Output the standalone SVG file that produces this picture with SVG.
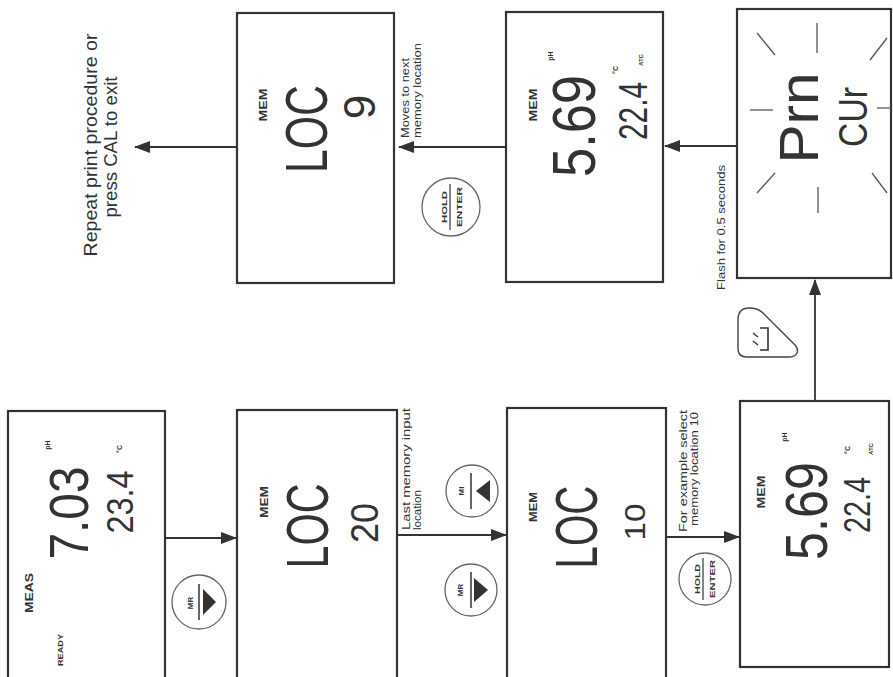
<svg xmlns="http://www.w3.org/2000/svg" width="893" height="677" viewBox="0 0 893 677">
<style>
.box{fill:#fff;stroke:#333;stroke-width:2.2}
.lcd{font-family:"Liberation Sans Narrow","Liberation Sans",Arial,sans-serif;fill:#333;text-anchor:middle}
.ind{font-family:"Liberation Sans",Arial,sans-serif;font-weight:bold;fill:#333;text-anchor:middle}
.lbl{font-family:"Liberation Sans",Arial,sans-serif;fill:#333}
.conn{stroke:#333;stroke-width:1.8;fill:none;marker-end:url(#ah)}
.btn{fill:#fff;stroke:#666;stroke-width:1.3}
.bt{font-family:"Liberation Sans",Arial,sans-serif;font-weight:bold;fill:#333;text-anchor:middle;font-size:8px}
.ray{stroke:#555;stroke-width:1.3}
</style>
<defs>
<marker id="ah" markerUnits="userSpaceOnUse" markerWidth="16" markerHeight="12" refX="15" refY="6" orient="auto">
<path d="M0,0 L16,6 L0,12 Z" fill="#333"/>
</marker>
</defs>
<rect width="893" height="677" fill="#fff"/>

<g id="connectors">
<path class="conn" d="M165 538 H236"/>
<path class="conn" d="M397 535 H506"/>
<path class="conn" d="M666 537 H739"/>
<path class="conn" d="M815 400 V280"/>
<path class="conn" d="M737 146 H665"/>
<path class="conn" d="M506 147 H399"/>
<path class="conn" d="M237 147 H135"/>
</g>

<g id="node-meas">
<rect class="box" x="8" y="411" width="157" height="280"/>
<text class="ind" font-size="11" textLength="40" lengthAdjust="spacingAndGlyphs" transform="translate(33 593) rotate(-90)">MEAS</text>
<text class="ind" font-size="6.5" font-weight="normal" textLength="32" lengthAdjust="spacingAndGlyphs" transform="translate(63 650) rotate(-90)">READY</text>
<text class="lcd" font-size="56" textLength="93" lengthAdjust="spacingAndGlyphs" transform="translate(88 513) rotate(-90)">7.03</text>
<text class="ind" font-size="7" transform="translate(50 445) rotate(-90)">pH</text>
<text class="lcd" font-size="36" textLength="63" lengthAdjust="spacingAndGlyphs" transform="translate(133 502) rotate(-90)">23.4</text>
<text class="ind" font-size="7" transform="translate(122 449) rotate(-90)">°C</text>
</g>

<g id="node-loc20">
<rect class="box" x="237" y="410" width="160" height="280"/>
<text class="ind" font-size="11" textLength="32" lengthAdjust="spacingAndGlyphs" transform="translate(268 502) rotate(-90)">MEM</text>
<text class="lcd" font-size="59" textLength="85" lengthAdjust="spacingAndGlyphs" transform="translate(328 526) rotate(-90)">LOC</text>
<text class="lcd" font-size="38" textLength="40" lengthAdjust="spacingAndGlyphs" transform="translate(378 523) rotate(-90)">20</text>
</g>

<g id="node-loc10">
<rect class="box" x="507" y="408" width="159" height="282"/>
<text class="ind" font-size="11" textLength="30" lengthAdjust="spacingAndGlyphs" transform="translate(537 507) rotate(-90)">MEM</text>
<text class="lcd" font-size="60" textLength="83" lengthAdjust="spacingAndGlyphs" transform="translate(597 527) rotate(-90)">LOC</text>
<text class="lcd" font-size="30" textLength="37" lengthAdjust="spacingAndGlyphs" transform="translate(645 522) rotate(-90)">10</text>
</g>

<g id="node-mem-bottom">
<rect class="box" x="740" y="401" width="149" height="266"/>
<text class="ind" font-size="11" textLength="33" lengthAdjust="spacingAndGlyphs" transform="translate(765 492) rotate(-90)">MEM</text>
<text class="lcd" font-size="60" textLength="98" lengthAdjust="spacingAndGlyphs" transform="translate(827 511) rotate(-90)">5.69</text>
<text class="ind" font-size="7" transform="translate(787 437) rotate(-90)">pH</text>
<text class="lcd" font-size="37" textLength="56" lengthAdjust="spacingAndGlyphs" transform="translate(870 505) rotate(-90)">22.4</text>
<text class="ind" font-size="7" transform="translate(850 450) rotate(-90)">°C</text>
<text class="ind" font-size="6" transform="translate(873 449) rotate(-90)">ATC</text>
</g>

<g id="node-loc9">
<rect class="box" x="237" y="13" width="157" height="270"/>
<text class="ind" font-size="11" textLength="33" lengthAdjust="spacingAndGlyphs" transform="translate(267 105) rotate(-90)">MEM</text>
<text class="lcd" font-size="60" textLength="88" lengthAdjust="spacingAndGlyphs" transform="translate(327 129) rotate(-90)">LOC</text>
<text class="lcd" font-size="44" transform="translate(375 107) rotate(-90)">9</text>
</g>

<g id="node-mem-top">
<rect class="box" x="506" y="12" width="157" height="270"/>
<text class="ind" font-size="11" textLength="33" lengthAdjust="spacingAndGlyphs" transform="translate(537 105) rotate(-90)">MEM</text>
<text class="lcd" font-size="62" textLength="102" lengthAdjust="spacingAndGlyphs" transform="translate(595 126) rotate(-90)">5.69</text>
<text class="ind" font-size="7" transform="translate(553 56) rotate(-90)">pH</text>
<text class="lcd" font-size="40" textLength="58" lengthAdjust="spacingAndGlyphs" transform="translate(647 111) rotate(-90)">22.4</text>
<text class="ind" font-size="7" transform="translate(618 70) rotate(-90)">°C</text>
<text class="ind" font-size="6" transform="translate(643 60) rotate(-90)">ATC</text>
</g>

<g id="node-prn">
<rect class="box" x="737" y="9" width="154" height="269"/>
<text class="lcd" font-size="55" textLength="91" lengthAdjust="spacingAndGlyphs" transform="translate(818 118) rotate(-90)">Prn</text>
<text class="lcd" font-size="41" textLength="60" lengthAdjust="spacingAndGlyphs" transform="translate(867 117) rotate(-90)">CUr</text>
<line class="ray" x1="817" y1="23" x2="817" y2="53"/>
<line class="ray" x1="818" y1="187" x2="818" y2="213"/>
<line class="ray" x1="750" y1="110" x2="773" y2="110"/>
<line class="ray" x1="877" y1="108" x2="891" y2="108"/>
<line class="ray" x1="757" y1="33" x2="775" y2="55"/>
<line class="ray" x1="887" y1="38" x2="870" y2="60"/>
<line class="ray" x1="775" y1="173" x2="757" y2="193"/>
<line class="ray" x1="872" y1="173" x2="887" y2="193"/>
</g>

<g id="btn-mr-1">
<circle class="btn" cx="199" cy="602" r="27"/>
<text class="bt" transform="translate(193 603) rotate(-90)">MR</text>
<line x1="199" y1="584" x2="199" y2="620" stroke="#333" stroke-width="1.5"/>
<path d="M203 589 L203 615 L216 602 Z" fill="#333"/>
</g>

<g id="btn-mi">
<circle class="btn" cx="472" cy="491" r="26"/>
<text class="bt" transform="translate(464 491) rotate(-90)">MI</text>
<line x1="471" y1="473" x2="471" y2="509" stroke="#333" stroke-width="1.5"/>
<path d="M476 491 L490 480 L490 502 Z" fill="#333"/>
</g>

<g id="btn-mr-2">
<circle class="btn" cx="471" cy="590" r="26"/>
<text class="bt" transform="translate(463 590) rotate(-90)">MR</text>
<line x1="471" y1="572" x2="471" y2="608" stroke="#333" stroke-width="1.5"/>
<path d="M474 578 L474 602 L488 590 Z" fill="#333"/>
</g>

<g id="btn-hold-top">
<circle class="btn" cx="451" cy="207" r="29"/>
<text class="bt" textLength="32" lengthAdjust="spacingAndGlyphs" transform="translate(447 207) rotate(-90)">HOLD</text>
<line x1="450" y1="184" x2="450" y2="230" stroke="#333" stroke-width="1.2"/>
<text class="bt" textLength="40" lengthAdjust="spacingAndGlyphs" transform="translate(462 207) rotate(-90)">ENTER</text>
</g>

<g id="btn-hold-bottom">
<circle class="btn" cx="705" cy="579" r="26"/>
<text class="bt" textLength="30" lengthAdjust="spacingAndGlyphs" transform="translate(700 579) rotate(-90)">HOLD</text>
<line x1="703" y1="558" x2="703" y2="600" stroke="#333" stroke-width="1.2"/>
<text class="bt" textLength="38" lengthAdjust="spacingAndGlyphs" transform="translate(715 579) rotate(-90)">ENTER</text>
</g>

<g id="btn-print">
<path d="M749 308 C741 308 738 312 738 320 L738 349 C738 355 741 357 747 357 L789 357 C797 357 800 351 795 345 L763 313 C759 309 755 308 749 308 Z" fill="#fff" stroke="#444" stroke-width="1.4"/>
<path d="M760 328 H768 V350 H760" fill="none" stroke="#333" stroke-width="1.6"/>
<path d="M753 333 L758 337 M753 341 L758 345" stroke="#333" stroke-width="1.3"/>
</g>

<g id="labels">
<text class="lbl" font-size="18.5" text-anchor="middle" textLength="223" lengthAdjust="spacingAndGlyphs" transform="translate(97 145) rotate(-90)">Repeat print procedure or</text>
<text class="lbl" font-size="18.5" text-anchor="middle" textLength="141" lengthAdjust="spacingAndGlyphs" transform="translate(117 147) rotate(-90)">press CAL to exit</text>
<text class="lbl" font-size="10" textLength="80" lengthAdjust="spacingAndGlyphs" transform="translate(409 138) rotate(-90)">Moves to next</text>
<text class="lbl" font-size="10" textLength="95" lengthAdjust="spacingAndGlyphs" transform="translate(421 138) rotate(-90)">memory location</text>
<text class="lbl" font-size="10" textLength="125" lengthAdjust="spacingAndGlyphs" transform="translate(725 290) rotate(-90)">Flash for 0.5 seconds</text>
<text class="lbl" font-size="10" textLength="122" lengthAdjust="spacingAndGlyphs" transform="translate(410 530) rotate(-90)">Last memory input</text>
<text class="lbl" font-size="10" textLength="40" lengthAdjust="spacingAndGlyphs" transform="translate(421 530) rotate(-90)">location</text>
<text class="lbl" font-size="10" textLength="122" lengthAdjust="spacingAndGlyphs" transform="translate(687 532) rotate(-90)">For example select</text>
<text class="lbl" font-size="10" textLength="114" lengthAdjust="spacingAndGlyphs" transform="translate(698 526) rotate(-90)">memory location 10</text>
</g>
</svg>
